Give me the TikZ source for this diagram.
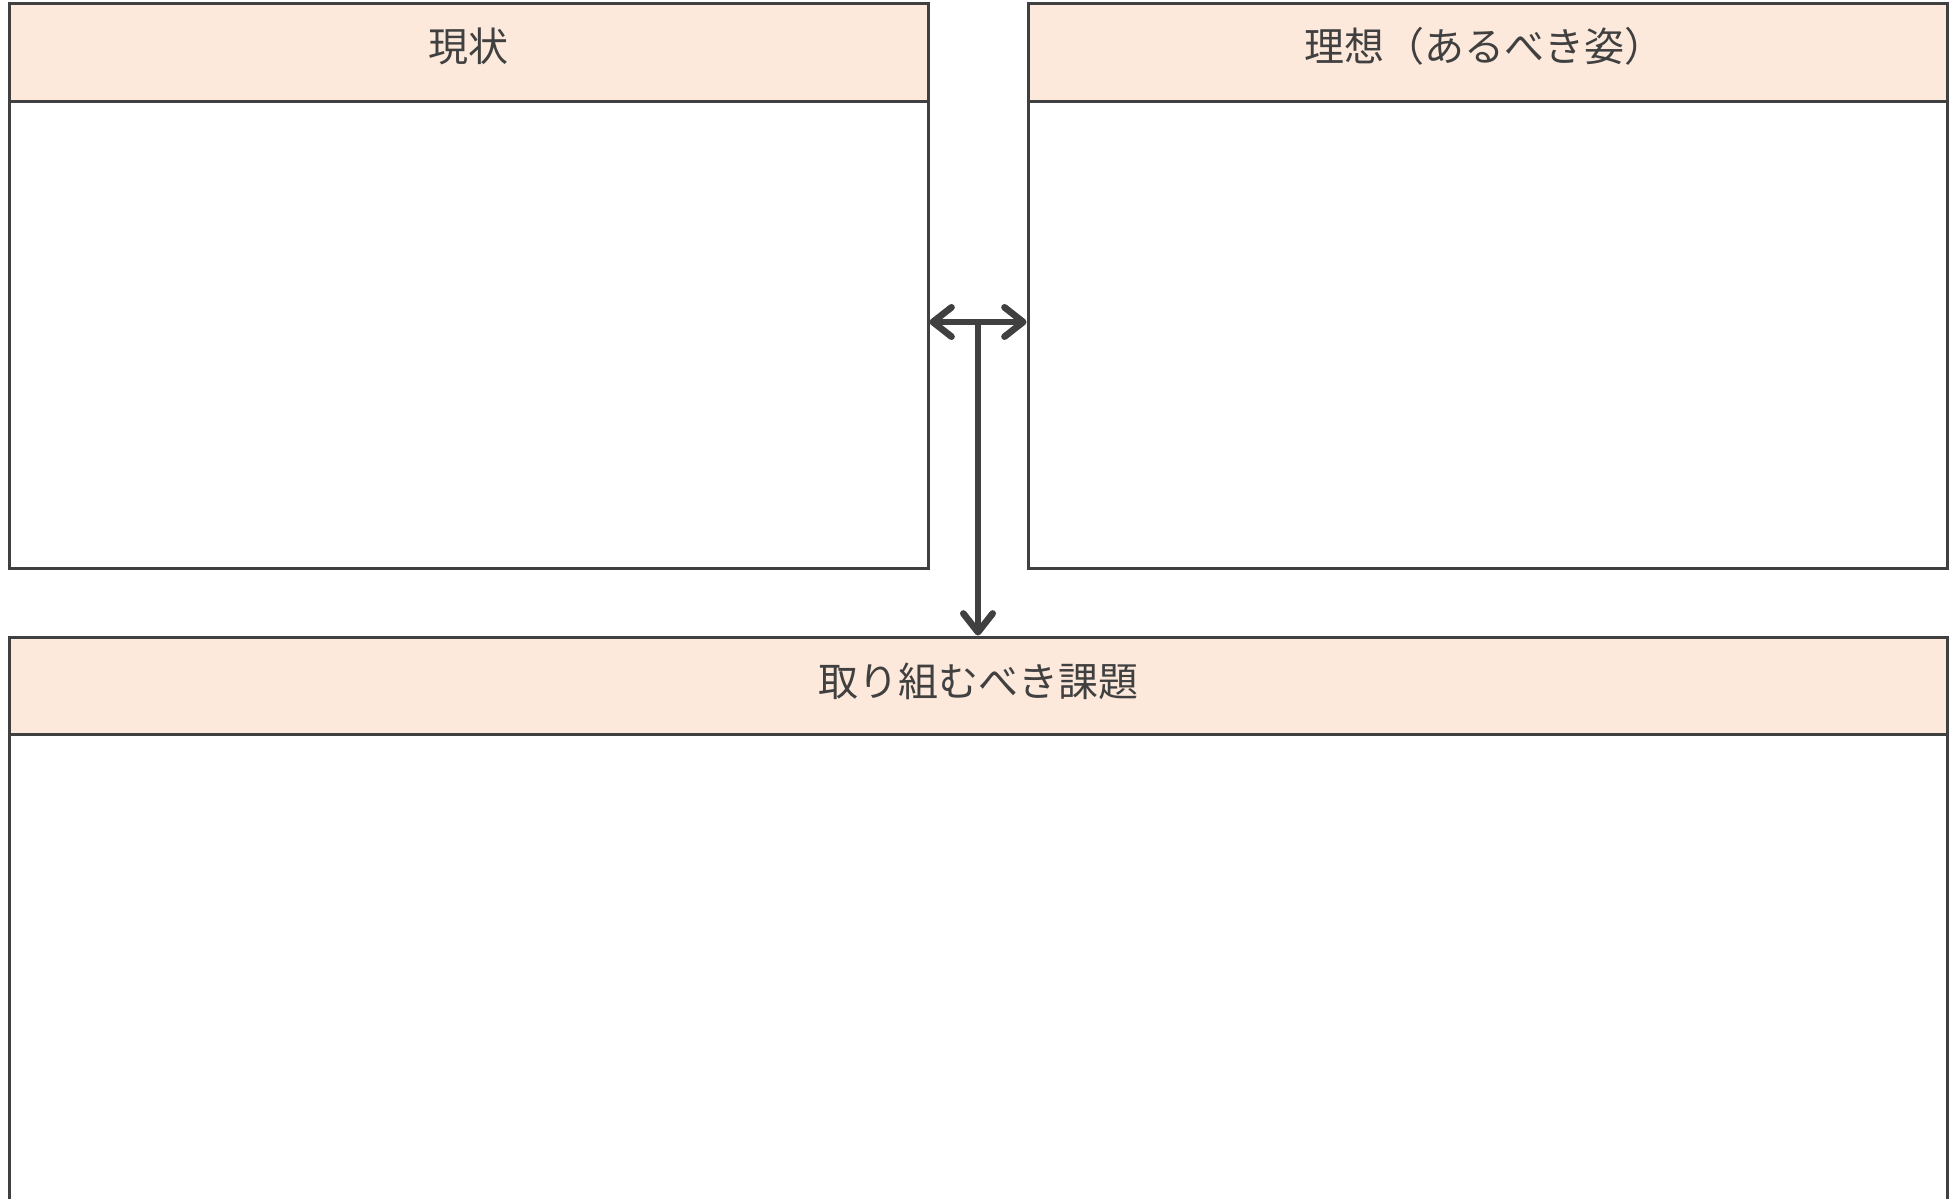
\documentclass[tikz,border=0pt]{standalone}
\usepackage{fontspec}
\newfontfamily\cjk{Noto Sans CJK JP}
\usetikzlibrary{fit,arrows.meta}
\definecolor{hdrfill}{RGB}{253,233,219}
\definecolor{ink}{RGB}{64,64,64}
\tikzset{
  panel/.style={draw=ink, line width=2.25pt, inner sep=0pt, fill=white},
  header/.style={draw=ink, line width=2.25pt, inner sep=0pt, fill=hdrfill},
  title/.style={text=ink, font=\cjk\fontsize{30pt}{36pt}\selectfont},
  link/.style={draw=ink, line width=5pt,
    arrows={-Straight Barb[length=14pt,width=22pt,round]}},
  dlink/.style={draw=ink, line width=5pt,
    arrows={Straight Barb[length=14pt,width=22pt,round]-Straight Barb[length=14pt,width=22pt,round]}}
}
\begin{document}
\begin{tikzpicture}[x=0.75pt,y=-0.75pt]
\useasboundingbox (0,0) rectangle (1957,1199);
% left panel
\node[panel, fit={(9,3)(928,568)}] (cur) {};
\node[header, fit={(9,3)(928,101)}] (curh) {};
\node[title] (curt) at ([yshift=4pt]curh.center) {現状};
% right panel
\node[panel, fit={(1028,3)(1947,568)}] (ideal) {};
\node[header, fit={(1028,3)(1947,101)}] (idealh) {};
\node[title] (idealt) at ([yshift=4pt,xshift=-2pt]idealh.center) {理想（あるべき姿）};
% bottom panel
\node[panel, fit={(9,637)(1947,1220)}] (task) {};
\node[header, fit={(9,637)(1947,734)}] (taskh) {};
\node[title] (taskt) at ([yshift=3pt]taskh.center) {取り組むべき課題};
% connectors
\coordinate (mid) at (978,322);
\draw[dlink] (mid -| cur.east) -- (mid -| ideal.west);
\draw[link] (mid) -- (mid |- task.north);
\end{tikzpicture}
\end{document}
